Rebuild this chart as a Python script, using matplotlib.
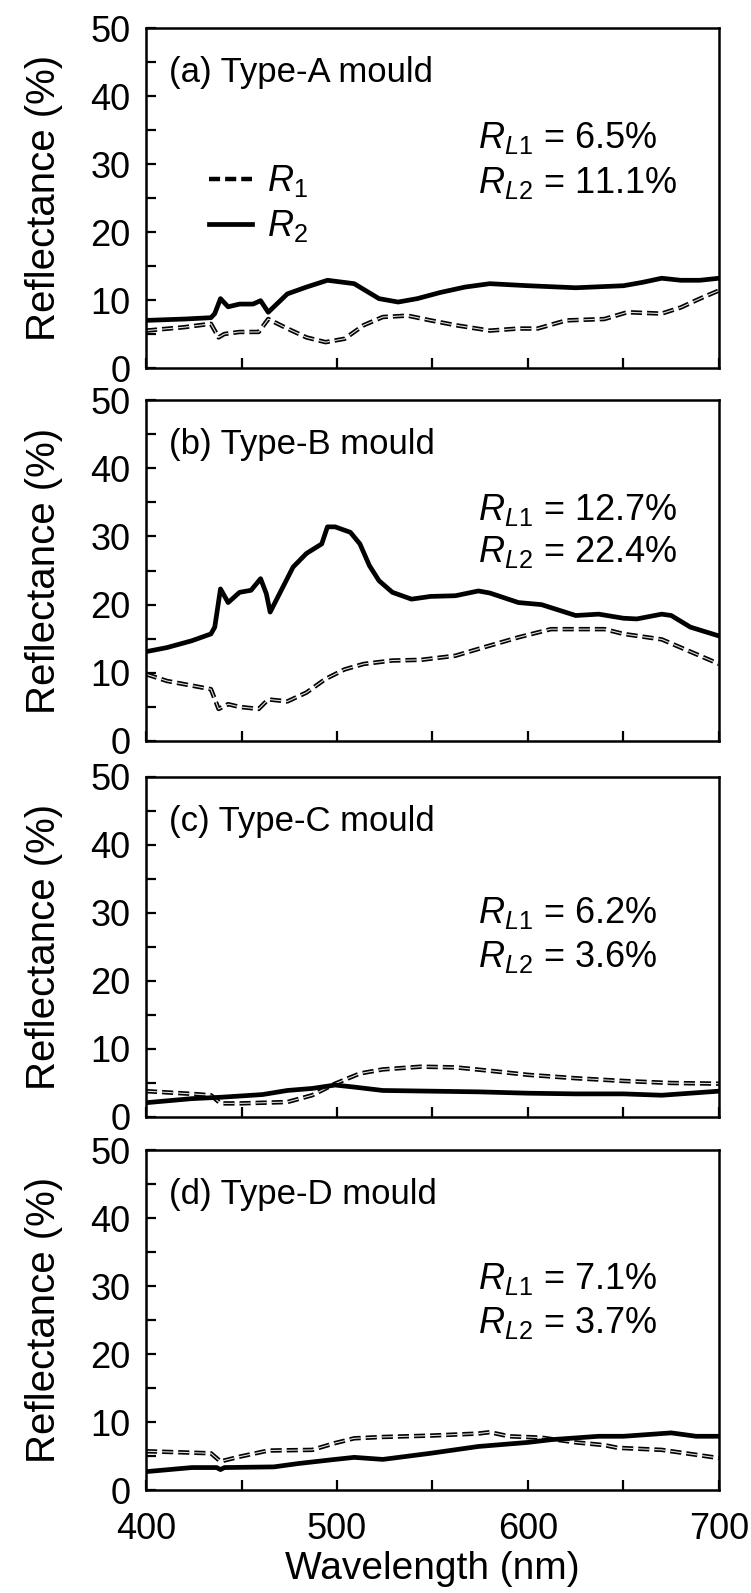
import matplotlib
matplotlib.use("Agg")
import matplotlib.pyplot as plt
from matplotlib.ticker import MultipleLocator
from matplotlib.lines import Line2D

# ---- data (wavelength in nm, reflectance in %) ----
panel_tags = ["(a) Type-A mould", "(b) Type-B mould", "(c) Type-C mould", "(d) Type-D mould"]
rl1_values = ["6.5%", "12.7%", "6.2%", "7.1%"]
rl2_values = ["11.1%", "22.4%", "3.6%", "3.7%"]

wl_a_r2 = [400, 420, 434, 436, 439, 443, 449, 456, 460, 464, 474, 484, 495, 509, 522, 532, 542,
           554, 567, 580, 600, 625, 650, 660, 670, 680, 690, 700]
a_r2 = [7.0, 7.2, 7.4, 8.0, 10.2, 9.0, 9.4, 9.4, 9.9, 8.2, 10.9, 11.9, 12.9, 12.4, 10.2, 9.7, 10.2,
        11.1, 11.9, 12.4, 12.1, 11.8, 12.1, 12.6, 13.2, 12.9, 12.9, 13.2]
wl_a_r1 = [400, 420, 434, 438, 441, 449, 459, 464, 474, 484, 494, 504, 514, 524, 537, 549, 562,
           580, 595, 605, 620, 640, 652, 670, 680, 690, 700]
a_r1 = [5.5, 6.0, 6.5, 4.5, 5.0, 5.3, 5.3, 7.2, 5.8, 4.5, 3.8, 4.3, 6.3, 7.5, 7.7, 7.0, 6.3,
        5.5, 5.8, 5.8, 7.0, 7.2, 8.2, 8.0, 8.9, 10.2, 11.4]

wl_b_r2 = [400, 411, 424, 434, 436, 439, 443, 449, 455, 460, 463, 465, 469, 477, 484, 492, 495,
           499, 507, 512, 517, 522, 529, 539, 549, 562, 574, 580, 595, 607, 625, 637, 650, 657,
           670, 675, 685, 700]
b_r2 = [13.1, 13.7, 14.7, 15.7, 16.7, 22.3, 20.3, 21.8, 22.1, 23.8, 21.6, 18.9, 21.1, 25.5, 27.5,
        28.9, 31.4, 31.4, 30.6, 28.9, 25.7, 23.5, 21.8, 20.8, 21.2, 21.3, 22.0, 21.7, 20.3, 20.0,
        18.4, 18.6, 18.0, 17.9, 18.6, 18.4, 16.7, 15.4]
wl_b_r1 = [400, 411, 434, 438, 443, 449, 459, 464, 474, 484, 494, 504, 514, 529, 544, 562, 574,
           595, 612, 625, 640, 650, 670, 680, 700]
b_r1 = [9.8, 8.8, 7.6, 4.7, 5.4, 5.0, 4.7, 6.1, 5.8, 7.1, 9.1, 10.5, 11.3, 11.8, 11.9, 12.5, 13.5,
        15.2, 16.4, 16.4, 16.4, 15.7, 14.9, 13.7, 11.3]

wl_c_r2 = [400, 424, 439, 461, 474, 487, 499, 509, 524, 549, 574, 600, 625, 650, 670, 700]
c_r2 = [2.1, 2.7, 2.9, 3.3, 3.9, 4.2, 4.7, 4.4, 3.9, 3.8, 3.7, 3.5, 3.4, 3.4, 3.2, 3.8]
wl_c_r1 = [400, 424, 434, 439, 449, 474, 487, 499, 512, 524, 544, 562, 580, 600, 625, 650, 675, 700]
c_r1 = [3.8, 3.4, 3.2, 2.0, 2.0, 2.2, 3.2, 4.9, 6.4, 7.0, 7.4, 7.3, 6.8, 6.2, 5.7, 5.3, 5.0, 4.9]

wl_d_r2 = [400, 424, 437, 439, 441, 467, 480, 499, 509, 524, 549, 574, 600, 612, 637, 650, 675, 688, 700]
d_r2 = [2.7, 3.3, 3.3, 3.0, 3.3, 3.4, 3.9, 4.5, 4.8, 4.5, 5.4, 6.4, 7.0, 7.4, 7.9, 7.9, 8.4, 7.9, 7.9]
wl_d_r1 = [400, 434, 439, 449, 464, 487, 499, 509, 524, 549, 574, 580, 590, 607, 625, 640, 647,
           670, 685, 700]
d_r1 = [5.7, 5.4, 4.2, 4.9, 5.8, 5.9, 6.9, 7.6, 7.8, 8.0, 8.3, 8.5, 7.9, 7.7, 7.0, 6.6, 6.2,
        5.9, 5.3, 4.7]

r1_series = [(wl_a_r1, a_r1), (wl_b_r1, b_r1), (wl_c_r1, c_r1), (wl_d_r1, d_r1)]
r2_series = [(wl_a_r2, a_r2), (wl_b_r2, b_r2), (wl_c_r2, c_r2), (wl_d_r2, d_r2)]

# ---- style ----
plt.rcParams["font.family"] = ["Liberation Sans", "DejaVu Sans"]
plt.rcParams["mathtext.fontset"] = "custom"
plt.rcParams["mathtext.rm"] = "Liberation Sans"
plt.rcParams["mathtext.it"] = "Liberation Sans:italic"
plt.rcParams["lines.scale_dashes"] = False

DASH = (8.0, 3.6)
W, H = 751, 1593
left_px, right_px = 146, 719
panel_px = [(28, 368), (400, 741), (777, 1117), (1150, 1490)]
rl_y = [(0.676, 0.544), (0.677, 0.554), (0.60, 0.47), (0.62, 0.49)]

fig = plt.figure(figsize=(W / 100, H / 100), dpi=100)

for i, (top, bot) in enumerate(panel_px):
    ax = fig.add_axes([left_px / W, 1 - bot / H, (right_px - left_px) / W, (bot - top) / H])
    wl1, r1 = r1_series[i]
    wl2, r2 = r2_series[i]
    # R1: black dashes with a thin light core, as in the scanned figure
    ax.plot(wl1, r1, color="black", lw=3.2, dashes=DASH, dash_capstyle="butt")
    ax.plot(wl1, r1, color="#e0e0e0", lw=0.8, dashes=DASH, dash_capstyle="butt")
    ax.plot(wl2, r2, color="black", lw=3.4, solid_joinstyle="round")

    ax.set_xlim(400, 700)
    ax.set_ylim(0, 50)
    ax.xaxis.set_major_locator(MultipleLocator(100))
    ax.xaxis.set_minor_locator(MultipleLocator(50))
    ax.yaxis.set_major_locator(MultipleLocator(10))
    ax.yaxis.set_minor_locator(MultipleLocator(5))
    ax.tick_params(which="both", direction="in", length=7, width=1.6, labelsize=26)
    ax.tick_params(axis="y", pad=11)
    ax.tick_params(axis="x", pad=16)
    for sp in ax.spines.values():
        sp.set_linewidth(1.8)
    if i < 3:
        ax.tick_params(axis="x", labelbottom=False)
    else:
        ax.set_xlabel("Wavelength (nm)", fontsize=28, labelpad=3)

    ax.set_ylabel("Reflectance (%)", fontsize=29)
    ax.yaxis.set_label_coords(-0.145, 0.5)

    ax.text(0.04, 0.87, panel_tags[i], transform=ax.transAxes, fontsize=25,
            ha="left", va="center")
    ax.text(0.58, rl_y[i][0], r"$R_{L1}$ = " + rl1_values[i], transform=ax.transAxes,
            fontsize=26, ha="left", va="center")
    ax.text(0.58, rl_y[i][1], r"$R_{L2}$ = " + rl2_values[i], transform=ax.transAxes,
            fontsize=26, ha="left", va="center")

    if i == 0:
        h1 = Line2D([], [], color="black", lw=3.2, dashes=DASH, dash_capstyle="butt")
        h2 = Line2D([], [], color="black", lw=3.4)
        ax.legend([h1, h2], [r"$R_1$", r"$R_2$"], loc="center left",
                  bbox_to_anchor=(0.11, 0.483), frameon=False, fontsize=26,
                  handlelength=1.2, handletextpad=0.4, labelspacing=0.25,
                  borderpad=0, borderaxespad=0)

fig.savefig("out.png", dpi=100)
